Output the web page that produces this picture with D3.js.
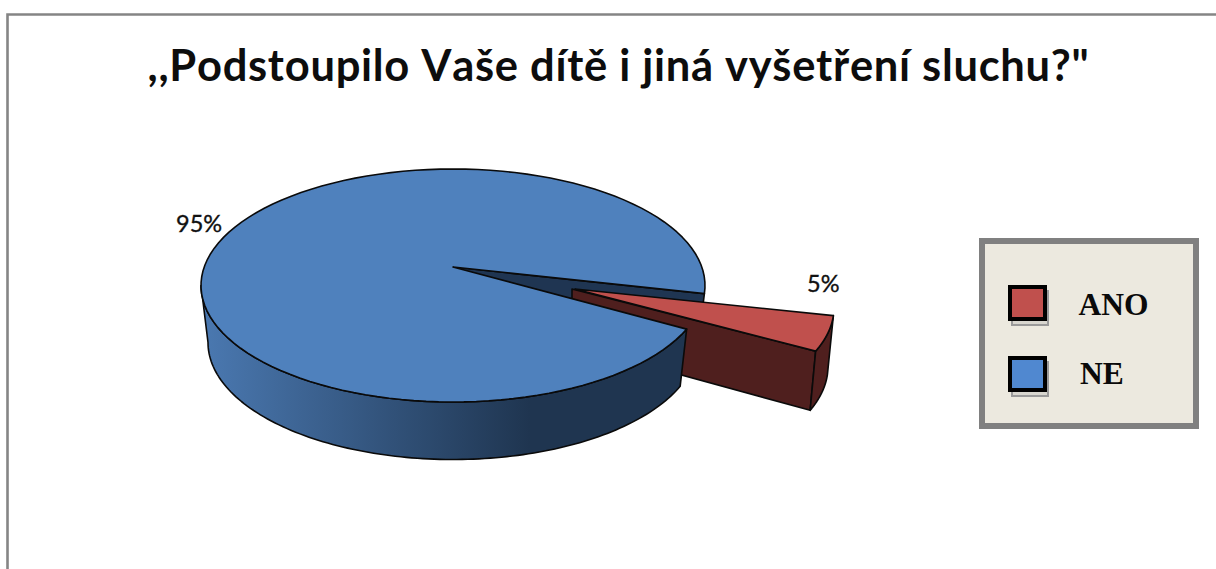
<!DOCTYPE html>
<html>
<head>
<meta charset="utf-8">
<script src="https://cdn.jsdelivr.net/npm/d3@7/dist/d3.min.js"></script>
<style>
  html, body { margin: 0; padding: 0; background: #fff; }
  svg { display: block; }
</style>
</head>
<body>
<svg id="chart" width="1216" height="569"></svg>
<script>
const titleText = ",,Podstoupilo Vaše dítě i jiná vyšetření sluchu?\"";
const categories = ["ANO", "NE"];
const shares = [5, 95];

const width = 1216, height = 569;
const svg = d3.select("#chart");
const defs = svg.append("defs");

// Tilted-disc geometry: the top rim, the narrower bottom rim and the off-centre hub.
const topRim = { cx: 453, cy: 285.5, rx: 252, ry: 116.5 };
const bottomRim = { cx: 453, cy: 342.5, rx: 245, ry: 117 };
const hub = [453, 267];
const explodeTop = [129, 22];
const explodeBottom = [130, 24];
const explodedHub = [575, 289];

const deg = Math.PI / 180;
const firstSliceStart = 94 * deg;
const slices = d3.pie().sort(null)
  .startAngle(firstSliceStart)
  .endAngle(firstSliceStart + 2 * Math.PI)(shares);
const ano = slices[0], ne = slices[1];

// Pie angles run clockwise from twelve o'clock.
const rimPoint = (rim, a, off = [0, 0]) => [
  rim.cx + rim.rx * Math.sin(a) + off[0],
  rim.cy - rim.ry * Math.cos(a) + off[1]
];
const rimArc = (rim, a0, a1, off) =>
  d3.range(0, 121).map(i => rimPoint(rim, a0 + (a1 - a0) * i / 120, off));
const line = d3.line();
const closed = pts => line(pts) + "Z";

const outlineAttrs = sel => sel.attr("stroke", "#0a0a0a").attr("stroke-width", 1.6).attr("stroke-linejoin", "round");

// Chart frame, open on the right-hand side.
svg.append("path")
  .attr("d", line([[7.5, height], [7.5, 14.5], [width, 14.5]]))
  .attr("fill", "none").attr("stroke", "#858585").attr("stroke-width", 2.6);

svg.append("text")
  .attr("x", 618.5).attr("y", 81)
  .attr("text-anchor", "middle")
  .attr("font-family", "Lato, sans-serif").attr("font-weight", 700)
  .attr("font-size", 43.5).attr("letter-spacing", 0.7)
  .attr("style", "font-variant-ligatures: none; font-feature-settings: 'liga' 0, 'kern' 0;")
  .attr("fill", "#0d0d0d")
  .text(titleText);

// Side shading of the large slice, light on the left and dark from the centre onward.
const sideGrad = defs.append("linearGradient")
  .attr("id", "sideShade").attr("gradientUnits", "userSpaceOnUse")
  .attr("x1", 205).attr("x2", 530).attr("y1", 0).attr("y2", 0);
sideGrad.append("stop").attr("offset", 0).attr("stop-color", "#4a78b0");
sideGrad.append("stop").attr("offset", 1).attr("stop-color", "#1f3550");

// Inner wall of the gap left by the pulled-out slice.
const gapEdge = rimPoint(topRim, ano.startAngle);
svg.append("path")
  .attr("d", closed([hub, gapEdge, rimPoint(bottomRim, ano.startAngle), [575, 320]]))
  .attr("fill", "#1f3552").call(outlineAttrs);

// Pulled-out slice: inner wall, outer wall, then top face.
const redTopOuter = rimArc(topRim, ano.startAngle, ano.endAngle, explodeTop);
const redBottomOuter = rimArc(bottomRim, ano.startAngle, ano.endAngle, explodeBottom);
const redEnd = redTopOuter[redTopOuter.length - 1];
const redBottomEnd = redBottomOuter[redBottomOuter.length - 1];

svg.append("path")
  .attr("d", closed([[572, 289], redEnd, redBottomEnd, [572, 345], [572, 299]]))
  .attr("fill", "#4f1f1e").call(outlineAttrs);
svg.append("path")
  .attr("d", closed(redTopOuter.concat(redBottomOuter.slice().reverse())))
  .attr("fill", "#4f1f1e").call(outlineAttrs);
svg.append("path")
  .attr("d", closed([explodedHub].concat(redTopOuter)))
  .attr("fill", "#c0504d").call(outlineAttrs);

// Large slice: outer wall from its gap edge round to the left extreme, then top face.
const leftmost = 270 * deg;
svg.append("path")
  .attr("d", closed(
    rimArc(topRim, ne.startAngle, leftmost)
      .concat(rimArc(bottomRim, ne.startAngle, leftmost).reverse())))
  .attr("fill", "url(#sideShade)").call(outlineAttrs);
svg.append("path")
  .attr("d", closed([hub].concat(rimArc(topRim, ne.startAngle, ne.endAngle))))
  .attr("fill", "#4f81bd").call(outlineAttrs);

// Percentage labels beside their slices.
const labelPositions = [[807, 292], [176, 232]];
svg.selectAll("text.share").data([0, 1]).join("text")
  .attr("class", "share")
  .attr("x", i => labelPositions[i][0]).attr("y", i => labelPositions[i][1])
  .attr("font-family", "Lato, sans-serif").attr("font-size", 23.5)
  .attr("fill", "#111").attr("stroke", "#111").attr("stroke-width", 0.35)
  .text(i => shares[i] + "%");

// Legend panel.
const legend = svg.append("g");
legend.append("rect")
  .attr("x", 982).attr("y", 241).attr("width", 214).attr("height", 185)
  .attr("fill", "#ece9df").attr("stroke", "#808080").attr("stroke-width", 6);

const legendColor = d3.scaleOrdinal().domain(categories).range(["#c0504d", "#5088d0"]);
const legendY = d3.scalePoint().domain(categories).range([285, 356]);

const rows = legend.selectAll("g.row").data(categories).join("g")
  .attr("class", "row")
  .attr("transform", d => `translate(1008,${legendY(d)})`);
rows.append("rect")
  .attr("x", 4).attr("y", 6).attr("width", 36).attr("height", 34)
  .attr("fill", "#d8d6cf").attr("stroke", "#9a9a9a").attr("stroke-width", 2);
rows.append("rect")
  .attr("x", 2).attr("y", 2).attr("width", 35).attr("height", 32)
  .attr("fill", d => legendColor(d)).attr("stroke", "#000").attr("stroke-width", 4);
rows.append("text")
  .attr("x", d => d === "ANO" ? 70.5 : 72).attr("y", d => d === "ANO" ? 30 : 28)
  .attr("font-family", "'Liberation Serif', serif").attr("font-weight", 700)
  .attr("font-size", 31.5).attr("fill", "#0a0a0a")
  .text(d => d);
</script>
</body>
</html>
